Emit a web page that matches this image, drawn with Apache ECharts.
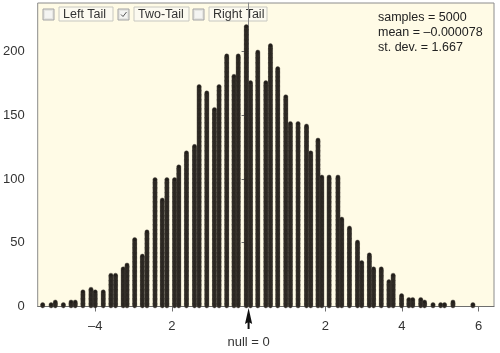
<!DOCTYPE html>
<html>
<head>
<meta charset="utf-8">
<script src="https://cdn.jsdelivr.net/npm/echarts@6/dist/echarts.min.js"></script>
<style>
html,body{margin:0;padding:0;background:#fff;}
#chart{width:500px;height:353px;}
</style>
</head>
<body>
<div id="chart"></div>
<script>
// column positions (sample values) and how many dots sit in each column
var colX = [-5.37,-5.15,-5.04,-4.83,-4.63,-4.52,-4.32,-4.11,-4.00,-3.79,
	-3.59,-3.47,-3.27,-3.17,-2.97,-2.77,-2.65,-2.44,-2.25,-2.13,
	-1.93,-1.82,-1.62,-1.41,-1.29,-1.09,-0.89,-0.77,-0.57,-0.38,
	-0.27,-0.06,0.05,0.24,0.45,0.57,0.76,0.97,1.09,1.29,
	1.51,1.62,1.81,1.91,2.10,2.33,2.43,2.63,2.84,2.95,
	3.15,3.26,3.46,3.66,3.77,3.99,4.18,4.28,4.49,4.59,
	4.81,5.01,5.11,5.33,5.85];
var colCount = [2,2,4,2,4,4,12,14,12,12,
	25,25,30,33,53,40,59,100,84,100,
	100,110,121,126,173,168,155,173,197,181,
	197,220,176,200,176,205,187,165,144,144,
	142,121,131,102,102,102,69,62,51,35,
	41,30,30,20,25,9,6,6,6,4,
	2,2,2,4,2];

var xTicks = [-4,-2,2,4,6];
var xLabels = [-4,-2,0,2,4,6];
var xLabelText = {'-4':'\u20134','-2':'2','0':'','2':'2','4':'4','6':'6'};
var yTicks = [0,50,100,150,200];

var tailNames = ['Left Tail','Two-Tail','Right Tail'];
var tailChecked = [false,true,false];
var statLines = ['samples = 5000','mean = \u20130.000078','st. dev. = 1.667'];
var nullValue = 0;

// one point per dot, stacked up from the axis
var dots = [];
for (var i = 0; i < colX.length; i++) {
	for (var k = 0; k < colCount[i]; k++) {
		dots.push([colX[i], k + 0.5]);
	}
}

var myChart = echarts.init(document.getElementById('chart'));
var font = 'Liberation Sans, Arial, sans-serif';

myChart.setOption({
	animation: false,
	grid: {
		left: 37, right: 6, top: 3, bottom: 46.5,
		show: true,
		backgroundColor: '#fffbe6',
		borderColor: '#8c8c8c',
		borderWidth: 1
	},
	xAxis: {
		type: 'value',
		min: -5.5,
		max: 6.4,
		splitLine: {show: false},
		axisLine: {lineStyle: {color: '#6e6e6e', width: 1}},
		axisTick: {length: 5, customValues: xTicks, lineStyle: {color: '#6e6e6e'}},
		axisLabel: {
			customValues: xLabels,
			margin: 13,
			fontSize: 13,
			fontFamily: font,
			color: '#333',
			formatter: function (v) { return xLabelText[String(v)]; }
		}
	},
	yAxis: {
		type: 'value',
		min: 0,
		max: 238,
		splitLine: {show: false},
		axisLine: {show: true, lineStyle: {color: '#8c8c8c'}},
		axisTick: {show: true, length: 7, customValues: yTicks, lineStyle: {color: '#6e6e6e'}},
		axisLabel: {
			customValues: yTicks,
			margin: 13,
			fontSize: 13,
			fontFamily: font,
			color: '#333'
		}
	},
	series: [{
		type: 'scatter',
		data: dots,
		symbol: 'circle',
		symbolSize: 4.2,
		silent: true,
		itemStyle: {color: '#221e1a', opacity: 1, borderColor: '#4a433c', borderWidth: 0.4},
		large: false
	}]
});

// checkboxes, stats text and the null arrow
var g = [];
var boxX = [43, 118, 193];
var labelW = [54, 55, 58];
for (var i = 0; i < tailNames.length; i++) {
	var bx = boxX[i];
	g.push({type: 'rect', shape: {x: bx, y: 9, width: 11, height: 11},
		style: {fill: '#e6e6e2', stroke: '#a5a5a5', lineWidth: 1}});
	g.push({type: 'rect', shape: {x: bx + 2, y: 11, width: 7, height: 7},
		style: {fill: '#f4f4f2', stroke: null}});
	if (tailChecked[i]) {
		g.push({type: 'polyline', shape: {points: [[bx + 3, 14.5], [bx + 5, 16.5], [bx + 8.5, 12]]},
			style: {stroke: '#555', lineWidth: 1, fill: null}});
	}
	g.push({type: 'rect', shape: {x: bx + 16, y: 7, width: labelW[i], height: 14},
		style: {fill: '#fcfaf0', stroke: '#c8c8c0', lineWidth: 1}});
	g.push({type: 'text', x: bx + 20, y: 14.5,
		style: {text: tailNames[i], fontSize: 12.5, fontFamily: font, fill: '#333', verticalAlign: 'middle'}});
}
for (var j = 0; j < statLines.length; j++) {
	g.push({type: 'text', x: 378, y: 17.5 + j * 15,
		style: {text: statLines[j], fontSize: 12.5, fontFamily: font, fill: '#222', verticalAlign: 'middle'}});
}
var p0 = myChart.convertToPixel({xAxisIndex: 0}, nullValue);
g.push({type: 'polygon', shape: {points: [[p0, 308], [p0 + 3.6, 324], [p0 + 1, 322.5], [p0 + 1, 329],
	[p0 - 1, 329], [p0 - 1, 322.5], [p0 - 3.6, 324]]}, style: {fill: '#111'}});
g.push({type: 'text', x: p0, y: 342,
	style: {text: 'null = ' + nullValue, fontSize: 13, fontFamily: font, fill: '#333', align: 'center', verticalAlign: 'middle'}});

myChart.setOption({graphic: g});
</script>
</body>
</html>
